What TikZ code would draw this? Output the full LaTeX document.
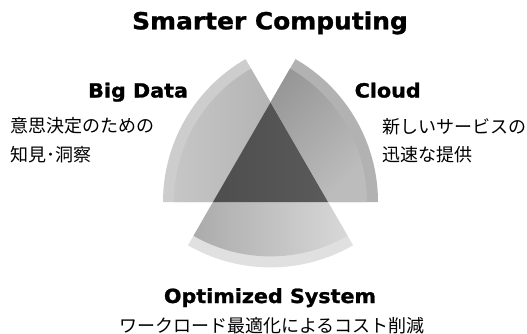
\documentclass[tikz,border=0pt]{standalone}
\usepackage{fontspec}
\newfontfamily\headfont{DejaVu Sans}[FakeStretch=1.06, BoldFeatures={FakeBold=1.2}]
\newfontfamily\jp{Noto Sans CJK JP}
\definecolor{bandL}{HTML}{CDCDCD}
\definecolor{innLa}{HTML}{C6C6C6}
\definecolor{innLb}{HTML}{A9A9A9}
\definecolor{bandR}{HTML}{B2B2B2}
\definecolor{innRa}{HTML}{8E8E8E}
\definecolor{innRb}{HTML}{BCBCBC}
\definecolor{bandB}{HTML}{E0E0E0}
\definecolor{innBa}{HTML}{ABABAB}
\definecolor{innBb}{HTML}{D8D8D8}
\definecolor{triA}{HTML}{4E4E4E}
\definecolor{triB}{HTML}{5A5A5A}
\tikzset{
  title/.style={font=\headfont\bfseries\fontsize{23.5}{28}\selectfont, inner sep=0pt},
  head/.style={font=\headfont\bfseries\fontsize{19.5}{23}\selectfont, inner sep=0pt},
  jptext/.style={font=\jp\fontsize{18}{22}\selectfont, inner sep=0pt},
}
\begin{document}
\begin{tikzpicture}[x=1pt,y=1pt]
\useasboundingbox (0,0) rectangle (527,333);
\fill[white] (0,0) rectangle (527,333);
\coordinate (T) at (270.5,230.6);
\coordinate (L) at (213,131);
\coordinate (R) at (328,131);
% left sector (Big Data), apex at R
\fill[bandL] (R) -- ++(120:165) arc[start angle=120,end angle=180,radius=165] -- cycle;
\shade[left color=innLa,right color=innLb] (R) -- ++(120:154) arc[start angle=120,end angle=180,radius=154] -- cycle;
% right sector (Cloud), apex at L
\fill[bandR] (L) -- ++(0:165) arc[start angle=0,end angle=60,radius=165] -- cycle;
\shade[left color=innRa,right color=innRb,shading angle=45] (L) -- ++(0:154) arc[start angle=0,end angle=60,radius=154] -- cycle;
% bottom sector (Optimized System), apex at T
\fill[bandB] (T) -- ++(240:165) arc[start angle=240,end angle=300,radius=165] -- cycle;
\shade[left color=innBa,right color=innBb] (T) -- ++(240:154) arc[start angle=240,end angle=300,radius=154] -- cycle;
% centre triangle
\shade[left color=triA,right color=triB] (T) -- (L) -- (R) -- cycle;
% texts
\node[title,anchor=base] (ttl) at (270,303.7) {Smarter Computing};
\node[head,anchor=base west] (bd) at (88,235.5) {Big Data};
\node[head,anchor=base west] (cl) at (354.5,235.5) {Cloud};
\node[head,anchor=base] (os) at (270,30) {Optimized System};
\node[jptext,anchor=west] (bd1) at (10,207.5) {意思決定のための};
\node[jptext,anchor=west] (bd2) at (10,178.5) {知見･洞察};
\node[jptext,anchor=west] (cl1) at (382,206.5) {新しいサービスの};
\node[jptext,anchor=west] (cl2) at (382,178.5) {迅速な提供};
\node[jptext,anchor=center] (os1) at (272,7.5) {ワークロード最適化によるコスト削減};
\end{tikzpicture}
\end{document}
